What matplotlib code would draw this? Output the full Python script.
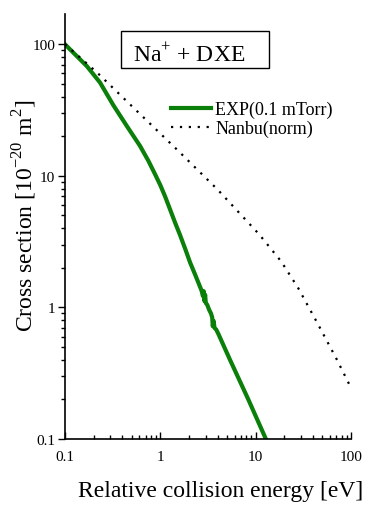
import matplotlib
matplotlib.use("Agg")
import matplotlib.pyplot as plt
from matplotlib.patches import Rectangle
from matplotlib.ticker import LogLocator, NullFormatter, FixedLocator, FixedFormatter

exp_energy = [0.1, 0.122, 0.169, 0.233, 0.321, 0.444, 0.612, 0.75, 0.88, 1.0,
              1.12, 1.26, 1.43, 1.61, 1.82, 2.05, 2.3, 2.5, 2.7, 2.8, 2.85,
              2.9, 2.95, 3.0, 3.1, 3.25, 3.4, 3.5, 3.55, 3.62, 3.7, 3.85, 4.06,
              5.38, 8.37, 12.8, 13.5]
exp_sigma = [100, 86.5, 68.4, 51.2, 34.5, 24, 16.9, 13, 10.3, 8.5,
             7.0, 5.6, 4.4, 3.55, 2.8, 2.2, 1.8, 1.55, 1.35, 1.22, 1.33,
             1.12, 1.25, 1.08, 1.05, 0.96, 0.9, 0.84, 0.72, 0.79, 0.7, 0.68, 0.63,
             0.40, 0.20, 0.1, 0.092]

# Nanbu(norm) model
nanbu_energy = [0.1, 0.217, 0.5, 1.5, 4.0, 10.9, 18.5, 28, 44, 70, 100]
nanbu_sigma = [100, 61, 34, 15.8, 7.85, 3.59, 2.24, 1.4, 0.77, 0.41, 0.245]

tick_vals = [0.1, 1, 10, 100]
tick_labels = ["0.1", "1", "10", "100"]

plt.rcParams['font.family'] = ['Liberation Serif', 'DejaVu Serif']
plt.rcParams['mathtext.fontset'] = 'custom'
plt.rcParams['mathtext.rm'] = 'Liberation Serif'

fig = plt.figure(figsize=(3.68, 5.06), dpi=100)
ax = fig.add_axes([0.1766, 0.1304, 0.9538 - 0.1766, 0.9704 - 0.1304])

ax.plot(exp_energy, exp_sigma, color='#0a7f0a', lw=3, label='EXP(0.1 mTorr)',
        solid_joinstyle='round')
ax.plot(nanbu_energy, nanbu_sigma, color='black', lw=1.6, linestyle=(0, (1, 3.0)),
        label='Nanbu(norm)')

ax.set_xscale('log')
ax.set_yscale('log')
ax.set_xlim(0.1, 100)
ax.set_ylim(0.1, 170)

for axis in (ax.xaxis, ax.yaxis):
    axis.set_major_locator(FixedLocator(tick_vals))
    axis.set_major_formatter(FixedFormatter(tick_labels))
    axis.set_minor_locator(LogLocator(base=10, subs=range(2, 10)))
    axis.set_minor_formatter(NullFormatter())

ax.tick_params(axis='x', which='major', direction='in', length=5, width=1, labelsize=11, pad=8)
ax.tick_params(axis='x', which='minor', direction='in', length=3, width=1)
ax.tick_params(axis='y', which='major', direction='out', length=5, width=1, labelsize=11, pad=2)
ax.tick_params(axis='y', which='minor', direction='out', length=3, width=1)

ax.spines['top'].set_visible(False)
ax.spines['right'].set_visible(False)
ax.spines['left'].set_linewidth(1.2)
ax.spines['bottom'].set_linewidth(1.2)

ax.set_xlabel('Relative collision energy [eV]', fontsize=17)
ax.set_ylabel(r'Cross section [10$^{-20}$ m$^{2}$]', fontsize=17)
# place axis labels where the original has them (pixel positions -> axes coords)
ax.xaxis.set_label_coords((221 - 65) / 286, -(497 - 440) / 425)
ax.xaxis.label.set_va('baseline')
ax.yaxis.set_label_coords(-(65 - 39) / 286, (440 - 216) / 425)

# title box
fig.patches.append(Rectangle((121 / 368, 1 - 69 / 506), 148 / 368, 37 / 506,
                             transform=fig.transFigure, facecolor='white',
                             edgecolor='black', lw=1))
fig.text(133 / 368, 1 - 62 / 506, r'Na$^{+}$ + DXE', fontsize=17,
         ha='left', va='baseline')

ax.legend(loc='upper left', bbox_to_anchor=(0.37, 0.796), frameon=False, fontsize=13,
          handlelength=2.2, handletextpad=0.25, labelspacing=0.1, borderaxespad=0,
          borderpad=0)

fig.savefig('out.png', dpi=100)
